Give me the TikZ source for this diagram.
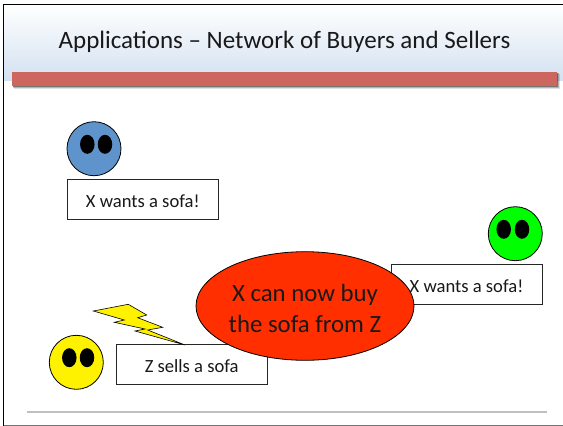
\documentclass[tikz,border=0pt]{standalone}
\usepackage{fontspec}
\setmainfont{Carlito}
\tikzset{
  x=1pt,y=-1pt,
  smiley/.style={circle,draw=black,line width=0.8pt,minimum size=54pt,inner sep=0pt},
  eye/.style={ellipse,fill=black,minimum width=14.5pt,minimum height=19pt,inner sep=0pt},
  msgbox/.style={rectangle,draw=black!85,fill=white,line width=0.8pt,minimum width=151pt,minimum height=40pt,inner sep=0pt,font=\fontsize{18.6}{22}\selectfont,text=black!90,text height=18pt,text depth=2pt},
}
\usetikzlibrary{shapes.geometric}
\definecolor{hdrblue}{HTML}{D3E1F1}
\definecolor{barred}{HTML}{CD665F}
\definecolor{blueface}{HTML}{5F93CB}
\definecolor{bigred}{HTML}{FF2F00}
\begin{document}
\begin{tikzpicture}
\useasboundingbox (0,0) rectangle (563,426);
\fill[white] (0,0) rectangle (563,426);
% header
\shade[top color=white,bottom color=hdrblue] (4,5) rectangle (563,80);
% frame
\draw[line width=1.6pt,black] (3.5,426) -- (3.5,4.5) -- (563,4.5);
\draw[line width=1pt,black!55] (3.5,425.3) -- (563,425.3);
\draw[line width=2pt,black!25] (27,412) -- (547,412);
% title
\node[font=\fontsize{25}{30}\selectfont,text=black!90] (title) at (284.5,42) {Applications – Network of Buyers and Sellers};
% bar with shadow
\foreach \d/\o in {3/0.12,2/0.2,1/0.35}{
  \fill[black,opacity=\o] (12+\d*0.6,72+\d*0.6) rectangle (557+\d,86+\d);
}
\fill[barred] (12,72) rectangle (557,86);
% X
\node[smiley,fill=blueface] (xface) at (94,148.7) {};
\node[eye] (xeyeL) at (87.3,144.3) {};
\node[eye] (xeyeR) at (105,144.3) {};
\node[msgbox] (xbox) at (142.8,199.3) {X wants a sofa!};
% Y
\node[smiley,fill=green] (yface) at (515.3,233.7) {};
\node[eye] (yeyeL) at (503.7,229.3) {};
\node[eye] (yeyeR) at (522,229.3) {};
\node[msgbox] (ybox) at (466.5,284.5) {X wants a sofa!};
% Z
\node[smiley,fill=yellow] (zface) at (76.3,362.3) {};
\node[eye] (zeyeL) at (69.3,357.7) {};
\node[eye] (zeyeR) at (87,357.7) {};
\node[msgbox] (zbox) at (191.7,364.3) {Z sells a sofa};
% bolt
\filldraw[fill=yellow,draw=black,line width=0.6pt,line join=miter]
 (93.3,311) -- (128.3,304.3) -- (146.7,315) -- (137.7,317.7) -- (162.7,327.3) -- (147.7,330) -- (185,345) -- (135,331) -- (145,329) -- (114.3,322.3) -- (124.3,320) -- cycle;
% big ellipse
\node[ellipse,draw=black,line width=0.8pt,fill=bigred,minimum width=218pt,minimum height=108.6pt,inner sep=0pt] (big) at (305,306) {};
\node[font=\fontsize{24.8}{30.3}\selectfont,text=black!90,align=center] (bigtext) at (305,308.5) {X can now buy\\the sofa from Z};
\end{tikzpicture}
\end{document}
